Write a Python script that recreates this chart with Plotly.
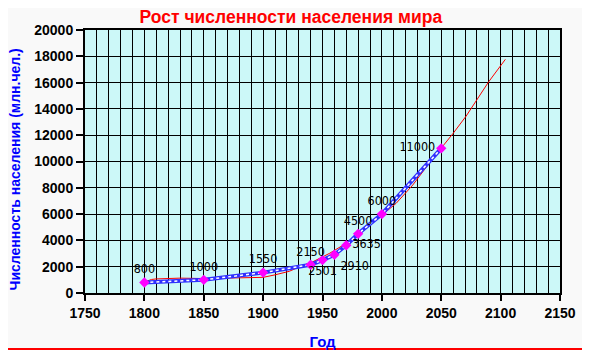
import plotly.graph_objects as go

# Data points (population, million people)
years = [1800, 1850, 1900, 1940, 1950, 1960, 1970, 1980, 2000, 2050]
population = [800, 1000, 1550, 2150, 2501, 2910, 3635, 4500, 6000, 11000]
label_pos = ["top center", "top center", "top center", "top center", "bottom center",
             "bottom right", "middle right", "top center", "top center", "middle left"]

# Red trend line
trend_years = [1800, 1803, 1806, 1810, 1820, 1830, 1850, 1870, 1890, 1900, 1910, 1914,
               1922, 1931, 1942, 1956, 1970, 1984, 1998, 2012, 2026, 2043, 2060, 2071,
               2080, 2090, 2104]
trend_values = [830, 960, 1030, 1070, 1110, 1130, 1100, 1130, 1160, 1190, 1380, 1480,
                1650, 2000, 2380, 3020, 3780, 4790, 5760, 6820, 8210, 10240, 12140, 13460,
                14680, 16070, 17770]

FONT = "Liberation Sans, Arial"

fig = go.Figure()

fig.add_trace(go.Scatter(x=trend_years, y=trend_values, mode="lines",
                         line=dict(color="#ff0000", width=1), hoverinfo="skip"))
fig.add_trace(go.Scatter(x=years, y=population, mode="lines",
                         line=dict(color="#3030ff", width=4)))
fig.add_trace(go.Scatter(x=years, y=population, mode="lines",
                         line=dict(color="#ffffff", width=1.5, dash="dot")))
fig.add_trace(go.Scatter(x=years, y=population, mode="markers+text",
                         marker=dict(symbol="diamond", size=8, color="#ff00ff",
                                     line=dict(width=0)),
                         text=[str(v) for v in population], textposition=label_pos,
                         textfont=dict(family="DejaVu Sans Condensed, Liberation Sans Narrow, Liberation Sans",
                                       size=12.5, color="#000000")))

fig.update_layout(
    width=582, height=342,
    margin=dict(l=77, r=30, t=22, b=57),
    paper_bgcolor="#f9f9f9",
    plot_bgcolor="#ccf8f8",
    showlegend=False,
    title=dict(text="Рост численности населения мира", x=0.486, xanchor="center",
               y=0.975, yanchor="middle",
               font=dict(family=FONT, size=17.5, color="#ff0000", weight="bold")),
    xaxis=dict(range=[1750, 2150], dtick=50, tick0=1750, showgrid=True, gridcolor="#000000",
               gridwidth=1, ticks="outside", ticklen=6, tickwidth=2, tickcolor="#000000",
               showline=True, linecolor="#000000", linewidth=2, mirror=True, zeroline=False,
               automargin=False,
               minor=dict(dtick=10, showgrid=True, gridcolor="#000000", gridwidth=1),
               tickfont=dict(family=FONT, size=14, color="#000000", weight="bold"),
               title=dict(text="Год", standoff=18,
                          font=dict(family=FONT, size=15, color="#0000ff", weight="bold"))),
    yaxis=dict(range=[0, 20000], dtick=2000, tickformat="d", showgrid=True, gridcolor="#000000",
               gridwidth=1, ticks="outside", ticklen=7, tickwidth=2, tickcolor="#000000",
               showline=True, linecolor="#000000", linewidth=2, mirror=True, zeroline=False,
               automargin=False,
               tickfont=dict(family=FONT, size=14, color="#000000", weight="bold")),
    annotations=[
        dict(text="Численность населения (млн.чел.)", xref="paper", yref="paper",
             x=-0.1465, y=0.4715, xanchor="center", yanchor="middle", textangle=-90,
             showarrow=False,
             font=dict(family=FONT, size=14, color="#0000ff", weight="bold")),
    ],
    shapes=[
        dict(type="line", xref="paper", yref="paper", x0=1.0568, x1=1.0568, y0=-0.25, y1=1.12,
             line=dict(color="#ff0000", width=2)),
        dict(type="line", xref="paper", yref="paper", x0=-0.3, x1=1.0568, y0=-0.2129, y1=-0.2129,
             line=dict(color="#ff0000", width=2)),
    ],
)

fig.write_html("out.html")
